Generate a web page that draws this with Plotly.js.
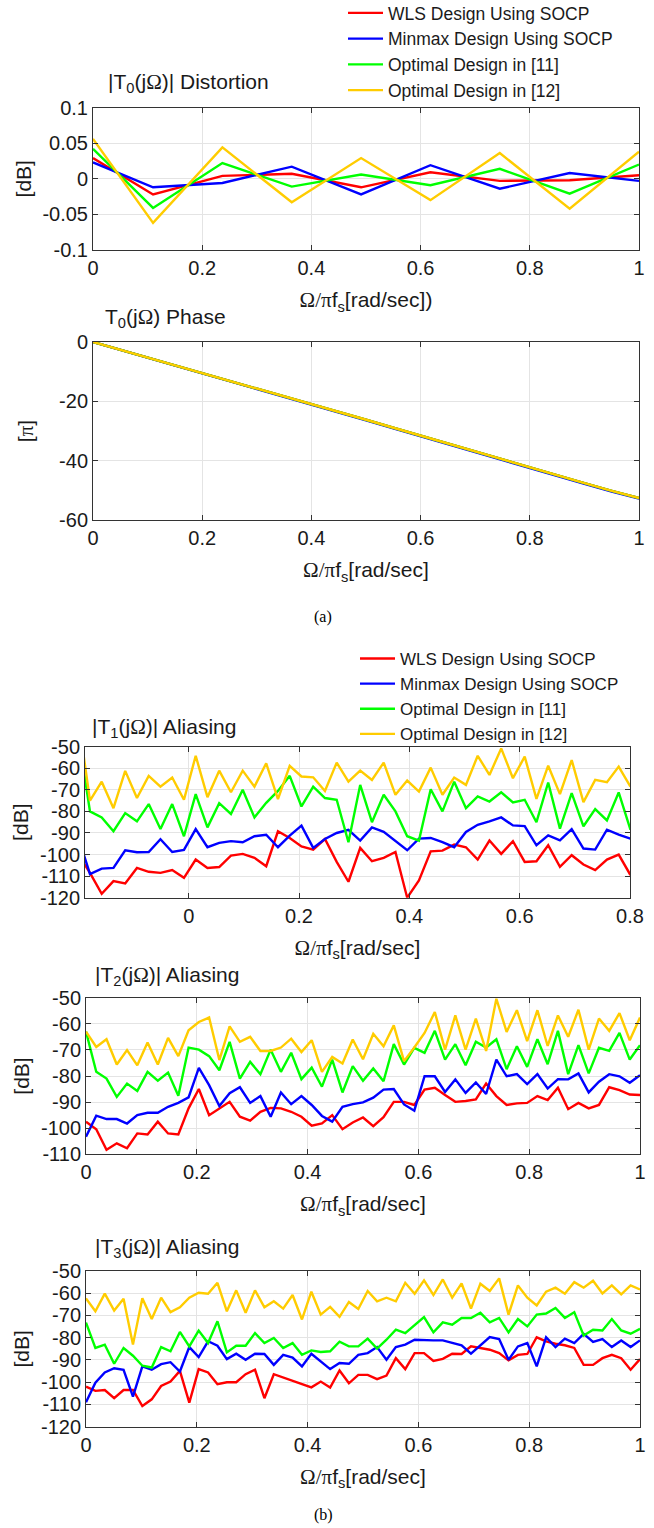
<!DOCTYPE html>
<html>
<head>
<meta charset="utf-8">
<script src="https://cdn.plot.ly/plotly-3.0.1.min.js"></script>
<style>html,body{margin:0;padding:0;background:#fff;}#chart{width:654px;height:1528px;}</style>
</head>
<body>
<div id="chart"></div>
<script>
// ---------------- data ----------------
const seriesNames = ['WLS Design Using SOCP', 'Minmax Design Using SOCP', 'Optimal Design in [11]', 'Optimal Design in [12]'];
const seriesColors = ['#ff0000', '#0000ff', '#00ff00', '#ffcc00'];

// (a) |T0| distortion [dB]
const distX = [0, 0.11, 0.237, 0.364, 0.491, 0.618, 0.745, 0.873, 1.0];
const distWLS    = [0.029, -0.022, 0.004, 0.007, -0.012, 0.009, -0.003, -0.002, 0.005];
const distMinmax = [0.023, -0.012, -0.006, 0.017, -0.022, 0.019, -0.014, 0.008, -0.003];
const distOpt11  = [0.042, -0.041, 0.022, -0.011, 0.006, -0.009, 0.014, -0.021, 0.020];
const distOpt12  = [0.056, -0.062, 0.044, -0.033, 0.029, -0.030, 0.036, -0.042, 0.038];

// (a) T0 phase [pi]
const phaseX = [0, 0.05, 0.1, 0.15, 0.2, 0.25, 0.3, 0.35, 0.4, 0.45, 0.5, 0.55, 0.6, 0.65, 0.7, 0.75, 0.8, 0.85, 0.9, 0.95, 1.0];
const phaseWLS    = [0, -2.6, -5.2, -7.8, -10.4, -13.0, -15.6, -18.2, -20.8, -23.5, -26.2, -28.9, -31.6, -34.3, -37.0, -39.6, -42.3, -45.0, -47.6, -50.2, -52.6];
const phaseMinmax = [0, -2.7, -5.3, -7.9, -10.6, -13.2, -15.8, -18.4, -21.0, -23.7, -26.4, -29.1, -31.8, -34.5, -37.2, -39.8, -42.5, -45.2, -47.8, -50.4, -52.8];
const phaseOpt11  = [0, -2.6, -5.2, -7.8, -10.4, -13.0, -15.6, -18.2, -20.8, -23.5, -26.2, -28.9, -31.6, -34.3, -37.0, -39.6, -42.3, -45.0, -47.6, -50.2, -52.6];
const phaseOpt12  = [0, -2.6, -5.2, -7.8, -10.4, -13.0, -15.6, -18.2, -20.8, -23.5, -26.2, -28.9, -31.6, -34.3, -37.0, -39.6, -42.3, -45.0, -47.6, -50.2, -52.6];

// (b) |T1| aliasing [dB]; frequency grid start/step/count
const t1Grid = {start: -0.2003, step: 0.0213, count: 48};
const t1WLS = [-100, -108.5, -118.2, -112.3, -113.4, -106.2, -108, -108.5, -107.2, -110.8, -102.3, -106.2, -105.8, -100.5, -99.7, -101.5, -105.4, -89.2, -92.3, -96.2, -97.7, -92.8, -103.4, -112.6, -96.9, -103.1, -101.5, -98.8, -120, -112, -98.5, -98.2, -95.4, -96.6, -102.3, -93.5, -99.7, -93.8, -103.4, -103.1, -95.7, -105.7, -100.3, -104.6, -107.2, -102.3, -100, -109.5];
const t1Minmax = [-92, -109, -106.5, -106.2, -98, -98.9, -98.8, -92.9, -98.8, -97.8, -88.2, -96.6, -94.6, -93.8, -94.3, -91.5, -90.8, -96.6, -91.2, -86.6, -96.9, -92.8, -90, -88.5, -93.5, -87.4, -89.5, -93.8, -98, -92.6, -92.3, -94.2, -96.6, -89.5, -86.2, -84.6, -82.8, -86.5, -86.8, -95.7, -91.1, -93.4, -88.2, -97.2, -97.7, -88.5, -90.8, -92.6];
const t1Opt11 = [-44, -80, -82.8, -89.2, -80.8, -84.6, -76.6, -88.2, -76.6, -91.5, -72, -87.4, -76.2, -81.2, -70, -82.8, -76, -70.5, -63.5, -77.7, -68.5, -73.8, -74.6, -94.3, -67.7, -85, -72.3, -80, -91.5, -93.5, -69.7, -80, -66.2, -78.5, -73, -75.4, -71.1, -75.8, -74.6, -85, -66.6, -88, -71.5, -86.9, -78.9, -84.2, -71.2, -88.5];
const t1Opt12 = [-36, -75, -66.2, -78.5, -61.2, -73.8, -63.5, -68.5, -64.3, -74.6, -54.2, -73.4, -61.1, -71.1, -61.1, -68.5, -57.7, -74.3, -58.9, -63.8, -64.2, -70.5, -57.4, -66.2, -61.1, -65.4, -57.4, -72.3, -65.7, -70.8, -59.7, -72.3, -64.3, -67.7, -54.2, -63.1, -50.8, -64.6, -54.6, -74.2, -58.8, -72.0, -56.2, -75.7, -65.4, -66.5, -59.2, -68.5];

// (b) |T2| aliasing [dB]
const t2Grid = {start: 0, step: 1 / 54, count: 55};
const t2WLS = [-97.5, -100.4, -108.3, -105.8, -107.7, -102, -102.4, -97.5, -102, -102.4, -92.4, -85, -95, -92.4, -89.9, -95.6, -97.1, -93.7, -92.2, -92.4, -93.7, -95.6, -99, -98.2, -95, -100.4, -97.8, -95.9, -99.2, -95.8, -89.9, -89.9, -91.1, -85.2, -84.5, -87.3, -89.9, -89.6, -89, -82.9, -87.7, -91.1, -90.5, -90.3, -87.7, -89.2, -84.5, -92.7, -90.3, -92.4, -91.1, -84.3, -85.4, -87.1, -87.3];
const t2Minmax = [-103.3, -95.2, -96.5, -96.5, -98.2, -95, -94.1, -94.1, -91.8, -90.3, -88.2, -76.9, -83.5, -91.5, -86.6, -84.3, -90.3, -87.7, -95.6, -86.3, -90.8, -87.7, -91.1, -95.3, -97.5, -91.8, -90.8, -90.1, -88.3, -85.2, -85, -90.9, -93.3, -80.1, -80.1, -86.1, -81.3, -86.5, -82.5, -86.9, -73.7, -80.1, -79.3, -83.1, -79.3, -84.8, -81.2, -81.3, -79, -86.3, -82.2, -79.3, -80.1, -82.6, -79.7];
const t2Opt11 = [-63, -78.4, -81, -88, -82.9, -85.7, -78.4, -81.8, -78.7, -87.6, -69.1, -69.9, -72.4, -77.8, -66.9, -81, -74.6, -79.3, -69.9, -78.4, -71.1, -81.2, -76.8, -84.1, -73.7, -86.3, -76.2, -81.8, -77.1, -82, -67.8, -75.6, -69.2, -71.1, -62.7, -73.7, -67.8, -75.9, -66.9, -69.1, -65.9, -77.4, -68.6, -76.5, -65.9, -75.5, -62.7, -79.3, -68.2, -79, -69.2, -70.4, -63.5, -73.7, -68.2];
const t2Opt12 = [-63, -68.9, -65.9, -75.6, -70.1, -75.9, -67.2, -75.6, -65.4, -72.4, -62.5, -59.3, -57.6, -73.9, -61, -66.9, -65, -70.4, -70.4, -69.1, -65.7, -70.8, -66.3, -78.4, -72.7, -75.2, -66, -73.6, -63.8, -68.6, -60.6, -74.3, -69.1, -63.5, -55.5, -69.9, -56.8, -69.9, -58, -70.4, -50.4, -63.1, -54.8, -66.6, -54.8, -68.5, -56.8, -65, -54.6, -69.9, -58, -62.7, -55.9, -66.3, -57.6];

// (b) |T3| aliasing [dB]
const t3Grid = {start: 0, step: 1 / 59, count: 60};
const t3WLS = [-102, -103.9, -103.5, -107.2, -103.5, -103.5, -110.7, -107.7, -101.7, -99.7, -94.9, -109.2, -94.1, -95.6, -100.9, -100, -100, -96.4, -94.4, -107.2, -96.4, -97.9, -99.2, -100.8, -102.3, -99.7, -102.4, -94.7, -100.5, -96.7, -96.7, -98.6, -97, -89.2, -94.1, -86.9, -86.9, -90.4, -89.5, -87.2, -87.3, -83.9, -84.6, -85.4, -86.9, -90.2, -87.7, -87.3, -79.8, -81.6, -82.7, -83.4, -84.6, -92.2, -92.2, -89.2, -87.7, -89.2, -94.4, -89.6];
const t3Minmax = [-109, -100.2, -95.6, -93.7, -94.4, -106.5, -92.9, -94.4, -91.9, -91, -95.2, -84.2, -88.7, -81.6, -83.6, -89.6, -87.2, -89.9, -87.2, -87.3, -92.2, -87.7, -88.9, -92.9, -87.2, -90.7, -94.1, -91.4, -91.7, -87.7, -86.9, -84.2, -89.9, -84.2, -83.1, -80.9, -81.2, -81.2, -81.2, -82.4, -83.4, -87.2, -83.6, -79.7, -80.6, -89.9, -83.9, -82.4, -92.9, -79.8, -84.2, -80.4, -82.4, -78.3, -81.9, -80.6, -84.2, -81.2, -84.2, -81.2];
const t3Opt11 = [-73.2, -84.6, -83.1, -91.7, -84.6, -88.1, -92.6, -93.4, -84.2, -86.1, -77.4, -83.9, -76.8, -82.4, -72.6, -86.6, -83.6, -83.6, -77.9, -82.4, -80.1, -84.6, -82.4, -87.7, -85.7, -86.4, -86.1, -81.8, -83.9, -83.9, -80.4, -84.9, -80.9, -76.4, -77.9, -74.1, -70.7, -77.6, -73.1, -74.1, -71.1, -71.1, -68.8, -73.1, -71.1, -77.6, -71.6, -74.9, -69.6, -69.1, -66.6, -71.1, -68.5, -79, -76.4, -76.7, -71.6, -76.7, -78.2, -76];
const t3Opt12 = [-62.3, -68.1, -60.2, -67.8, -62.5, -83.1, -62.3, -71.6, -62, -68.5, -66.3, -62, -59.8, -60.2, -55.3, -68.1, -58.7, -68.8, -58.7, -66.3, -63.6, -66.9, -60.8, -71.8, -59.3, -69.6, -66.1, -70.6, -63.9, -67.1, -59, -63.6, -62, -63.6, -55.3, -60.2, -54.2, -60.8, -53.8, -62, -55.6, -66.9, -55.7, -59, -53.3, -69.6, -56.5, -62, -65.5, -59.3, -57.5, -60.2, -55, -57.5, -54.4, -60.1, -56.5, -60.5, -56.5, -58.3];

// tick labels
const freqTickVals = [0, 0.2, 0.4, 0.6, 0.8, 1];
const freqTickText = ['0', '0.2', '0.4', '0.6', '0.8', '1'];
const t1TickVals = [0, 0.2, 0.4, 0.6, 0.8];
const t1TickText = ['0', '0.2', '0.4', '0.6', '0.8'];
const distTickVals = [-0.1, -0.05, 0, 0.05, 0.1];
const distTickText = ['-0.1', '-0.05', '0', '0.05', '0.1'];
const phaseTickVals = [-60, -40, -20, 0];
const phaseTickText = ['-60', '-40', '-20', '0'];
const dB120Vals = [-120, -110, -100, -90, -80, -70, -60, -50];
const dB120Text = ['-120', '-110', '-100', '-90', '-80', '-70', '-60', '-50'];
const dB110Vals = [-110, -100, -90, -80, -70, -60, -50];
const dB110Text = ['-110', '-100', '-90', '-80', '-70', '-60', '-50'];

// ---------------- layout helpers ----------------
const W = 654, H = 1528;
const SANS = 'Liberation Sans, Arial, Helvetica, sans-serif';
const SERIF = 'Liberation Serif, Times New Roman, serif';
const TXT = '#1a1a1a';
const greek = s => '<span style="font-family:Liberation Serif">' + s + '</span>';
const gridOf = g => { const a = []; for (let i = 0; i < g.count; i++) a.push(g.start + i * g.step); return a; };
const dxr = (l, r) => [l / W, r / W];
const dyr = (t, b) => [1 - b / H, 1 - t / H];

function axis(domain, range, vals, text, extra) {
  return Object.assign({
    domain: domain, range: range, tickvals: vals, ticktext: text,
    showline: true, linecolor: '#333333', linewidth: 1, mirror: 'ticks',
    ticks: 'inside', ticklen: 5, tickcolor: '#333333',
    showgrid: true, gridcolor: '#e4e4e4', gridwidth: 1, zeroline: false,
    tickfont: {family: SANS, size: 20, color: TXT}, fixedrange: true
  }, extra || {});
}

const xLab = greek('Ω/π') + 'f<sub>s</sub>[rad/sec]';
const xLab1 = xLab + ')';

const traces = [];
function addSet(xs, ys, n, opts) {
  for (let i = 0; i < 4; i++) {
    traces.push(Object.assign({
      type: 'scatter', mode: 'lines', x: xs, y: ys[i], name: seriesNames[i],
      line: {color: seriesColors[i], width: 2.4},
      xaxis: 'x' + (n === 1 ? '' : n), yaxis: 'y' + (n === 1 ? '' : n),
      showlegend: false, hoverinfo: 'skip'
    }, opts || {}));
  }
}
addSet(distX, [distWLS, distMinmax, distOpt11, distOpt12], 1, {showlegend: true, legend: 'legend'});
addSet(phaseX, [phaseWLS, phaseMinmax, phaseOpt11, phaseOpt12], 2);
addSet(gridOf(t1Grid), [t1WLS, t1Minmax, t1Opt11, t1Opt12], 3, {showlegend: true, legend: 'legend2'});
addSet(gridOf(t2Grid), [t2WLS, t2Minmax, t2Opt11, t2Opt12], 4);
addSet(gridOf(t3Grid), [t3WLS, t3Minmax, t3Opt11, t3Opt12], 5);

const axTitle = (t, s) => ({text: t, font: {family: SANS, size: 21, color: TXT}, standoff: s});
const XS = 14, YS = 5;

const layout = {
  width: W, height: H, margin: {l: 0, r: 0, t: 0, b: 0, autoexpand: false},
  paper_bgcolor: '#ffffff', plot_bgcolor: '#ffffff',
  font: {family: SANS, color: TXT},
  xaxis:  axis(dxr(93, 639), [0, 1], freqTickVals, freqTickText, {anchor: 'y', title: axTitle(xLab1, XS)}),
  yaxis:  axis(dyr(107.5, 250), [-0.1, 0.1], distTickVals, distTickText, {anchor: 'x', title: axTitle('[dB]', YS)}),
  xaxis2: axis(dxr(93, 639), [0, 1], freqTickVals, freqTickText, {anchor: 'y2', title: axTitle(xLab, XS)}),
  yaxis2: axis(dyr(342, 520), [-60, 0], phaseTickVals, phaseTickText, {anchor: 'x2', title: axTitle('[' + greek('π') + ']', 19)}),
  xaxis3: axis(dxr(85, 630), [-0.188, 0.8], t1TickVals, t1TickText, {anchor: 'y3', title: axTitle(xLab, XS)}),
  yaxis3: axis(dyr(746.7, 897.7), [-120, -50], dB120Vals, dB120Text, {anchor: 'x3', title: axTitle('[dB]', YS)}),
  xaxis4: axis(dxr(86, 640), [0, 1], freqTickVals, freqTickText, {anchor: 'y4', title: axTitle(xLab, XS)}),
  yaxis4: axis(dyr(997.7, 1154.3), [-110, -50], dB110Vals, dB110Text, {anchor: 'x4', title: axTitle('[dB]', YS)}),
  xaxis5: axis(dxr(86, 640), [0, 1], freqTickVals, freqTickText, {anchor: 'y5', title: axTitle(xLab, XS)}),
  yaxis5: axis(dyr(1271, 1426.7), [-120, -50], dB120Vals, dB120Text, {anchor: 'x5', title: axTitle('[dB]', YS)}),
  legend: {
    x: 343 / W, xanchor: 'left', y: 1 + 5 / H, yanchor: 'top', itemwidth: 35,
    bgcolor: 'rgba(0,0,0,0)', borderwidth: 0, tracegroupgap: 0,
    font: {family: SANS, size: 17.5, color: TXT}
  },
  legend2: {
    x: 355 / W, xanchor: 'left', y: 1 - 641 / H, yanchor: 'top', itemwidth: 35,
    bgcolor: 'rgba(0,0,0,0)', borderwidth: 0, tracegroupgap: 0,
    font: {family: SANS, size: 17, color: TXT}
  },
  annotations: [
    {text: '|T<sub>0</sub>(j' + greek('Ω') + ')| Distortion', x: 106 / W, y: 1 - 83 / H},
    {text: 'T<sub>0</sub>(j' + greek('Ω') + ') Phase', x: 103 / W, y: 1 - 318 / H},
    {text: '|T<sub>1</sub>(j' + greek('Ω') + ')| Aliasing', x: 90 / W, y: 1 - 728 / H},
    {text: '|T<sub>2</sub>(j' + greek('Ω') + ')| Aliasing', x: 93 / W, y: 1 - 976 / H},
    {text: '|T<sub>3</sub>(j' + greek('Ω') + ')| Aliasing', x: 93 / W, y: 1 - 1248 / H}
  ].map(a => Object.assign({xref: 'paper', yref: 'paper', xanchor: 'left', yanchor: 'middle', showarrow: false,
    font: {family: SANS, size: 21, color: TXT}}, a)).concat([
    {text: '(a)', x: 323 / W, y: 1 - 617 / H},
    {text: '(b)', x: 323 / W, y: 1 - 1515 / H}
  ].map(a => Object.assign({xref: 'paper', yref: 'paper', xanchor: 'center', yanchor: 'middle', showarrow: false,
    font: {family: SERIF, size: 16, color: '#000000'}}, a)))
};

Plotly.newPlot('chart', traces, layout, {displayModeBar: false, staticPlot: true});
</script>
</body>
</html>
